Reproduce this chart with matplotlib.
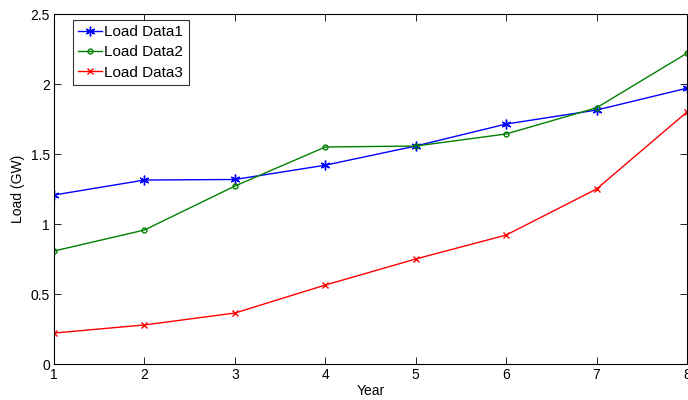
import matplotlib
matplotlib.use("Agg")
import matplotlib.pyplot as plt

years = [1, 2, 3, 4, 5, 6, 7, 8]
load1 = [1.207, 1.314, 1.318, 1.42, 1.557, 1.714, 1.814, 1.97]
load2 = [0.807, 0.957, 1.271, 1.55, 1.557, 1.643, 1.83, 2.22]
load3 = [0.221, 0.279, 0.364, 0.564, 0.75, 0.921, 1.25, 1.8]
labels = ["Load Data1", "Load Data2", "Load Data3"]

plt.rcParams['font.family'] = ['Liberation Sans', 'DejaVu Sans']
fig = plt.figure(figsize=(6.88, 4.0), dpi=100)
ax = fig.add_axes([54/688, 36/400, 633/688, 350/400])

ax.plot(years, load1, color='#0000ff', marker=(6, 2, 0), markersize=7, markeredgewidth=1, lw=1, label=labels[0])
ax.plot(years, load2, color='#008000', marker='o', markersize=3.5, markerfacecolor='none', lw=1, label=labels[1])
ax.plot(years, load3, color='#ff0000', marker='x', markersize=5, lw=1, label=labels[2])

ax.set_xlim(1, 8)
ax.set_ylim(0, 2.5)
ax.set_xticks(years)
ax.set_yticks([0, 0.5, 1, 1.5, 2, 2.5])
ax.set_yticklabels(['0', '0.5', '1', '1.5', '2', '2.5'])
ax.tick_params(direction='in', top=True, right=True, labelsize=10, length=5, width=0.6, pad=3)
for s in ax.spines.values():
    s.set_linewidth(0.8)
ax.set_xlabel('Year', fontsize=10, labelpad=1)
ax.set_ylabel('Load (GW)', fontsize=10, labelpad=4)

leg = ax.legend(loc='upper left', bbox_to_anchor=(19/633, 1 - 6/350), fontsize=11,
                frameon=True, fancybox=False, edgecolor='black', handlelength=1.55,
                handletextpad=0.15, borderpad=0.35, labelspacing=0.4, borderaxespad=0)
leg.get_frame().set_linewidth(0.8)

fig.savefig('out.png', dpi=100)
